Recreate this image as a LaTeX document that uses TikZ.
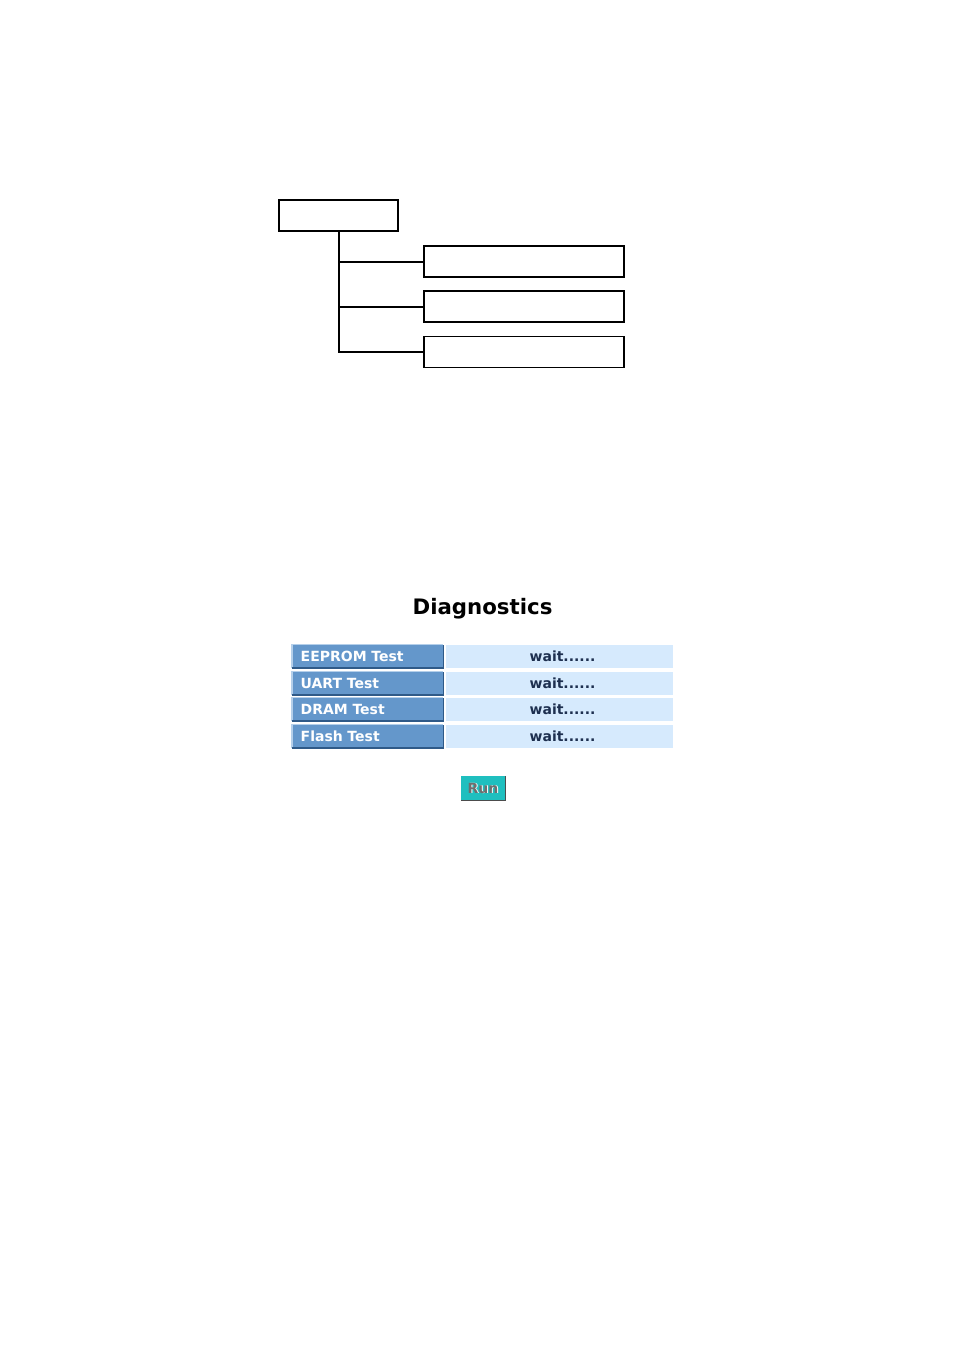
\documentclass[tikz,border=0pt]{standalone}
\usepackage{fontspec}
\setmainfont{DejaVu Sans}
\definecolor{btnfill}{HTML}{6497CB}
\definecolor{btndark}{HTML}{2F5A88}
\definecolor{btnlight}{HTML}{B4CFEA}
\definecolor{cellfill}{HTML}{D6EAFD}
\definecolor{celltext}{HTML}{1D2F4F}
\definecolor{runfill}{HTML}{1FBFBF}
\definecolor{runtext}{HTML}{6E6E6E}
\tikzset{
  treebox/.style={draw=black, line width=1.6pt, minimum height=31pt, inner sep=0pt},
  treeline/.style={draw=black, line width=2pt},
  btn/.style={fill=btnfill, minimum width=151pt, minimum height=23pt, inner sep=0pt, text=white, font=\bfseries\fontsize{14}{14}\selectfont, anchor=west},
  cellval/.style={fill=cellfill, minimum width=227pt, minimum height=23pt, inner sep=0pt, text=celltext, font=\bfseries\fontsize{14}{14}\selectfont},
  hilite/.style={draw=btnlight, line width=1.2pt},
  shade/.style={draw=btndark, line width=1.6pt},
}
\begin{document}
\begin{tikzpicture}[x=1pt,y=-1pt]
\useasboundingbox (0,0) rectangle (954,1351);
\fill[white] (0,0) rectangle (954,1351);
% tree
\node[treebox, minimum width=119pt] (top) at (338.5,215.5) {};
\node[treebox, minimum width=200pt] (c1) at (524,261.5) {};
\node[treebox, minimum width=200pt] (c2) at (524,306.5) {};
\node[treebox, minimum width=200pt] (c3) at (524,352) {};
\draw[treeline] (top.south) |- (c3.west);
\draw[treeline] (top.south) |- (c1.west);
\draw[treeline] (top.south) |- (c2.west);
% title
\node[font=\bfseries\fontsize{21.3}{21.3}\selectfont] (title) at (482.5,609) {Diagnostics};
% table
\foreach \n/\lab/\y in {1/EEPROM Test/656.5, 2/UART Test/683.5, 3/DRAM Test/709.5, 4/Flash Test/736.5}{
  \node[btn, text width=146pt, align=left, text depth=0pt] (b\n) at (292,\y) {\hspace*{6pt}\lab};
  \draw[hilite] (b\n.south west) -- (b\n.north west) -- (b\n.north east);
  \draw[shade] (b\n.south west) -- (b\n.south east) -- (b\n.north east);
  \node[cellval] (v\n) at (559.5,\y) {\hspace*{6pt}wait......};
}
% run button
\node[fill=runfill, minimum width=44pt, minimum height=24pt, inner sep=0pt] (run) at (483,788) {};
\node[text=white, font=\bfseries\fontsize{14}{14}\selectfont] (runshadow) at ([shift={(0.9pt,-0.9pt)}]run.center) {Run};
\node[text=runtext, font=\bfseries\fontsize{14}{14}\selectfont] (runlabel) at (run.center) {Run};
\draw[draw=white, line width=1pt] (run.south west) -- (run.north west) -- (run.north east);
\draw[draw=black!70, line width=1.4pt] (run.south west) -- (run.south east) -- (run.north east);
\end{tikzpicture}
\end{document}
